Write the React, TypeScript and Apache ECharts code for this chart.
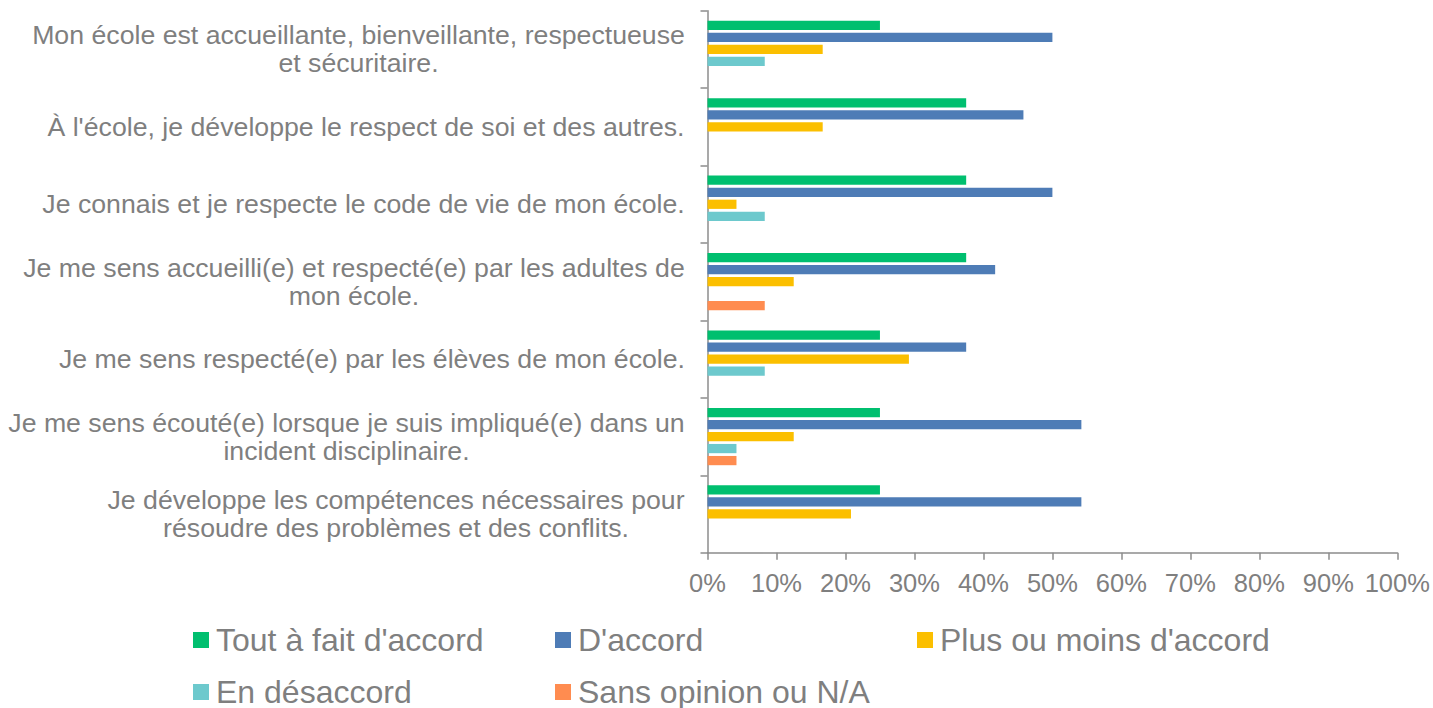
import React, { useEffect, useRef } from "react";
import * as echarts from "echarts";

const categories: string[] = [
  "Mon école est accueillante, bienveillante, respectueuse\net sécuritaire.",
  "À l'école, je développe le respect de soi et des autres.",
  "Je connais et je respecte le code de vie de mon école.",
  "Je me sens accueilli(e) et respecté(e) par les adultes de\nmon école.",
  "Je me sens respecté(e) par les élèves de mon école.",
  "Je me sens écouté(e) lorsque je suis impliqué(e) dans un\nincident disciplinaire.",
  "Je développe les compétences nécessaires pour\nrésoudre des problèmes et des conflits.",
];

const seriesNames: string[] = [
  "Tout à fait d'accord",
  "D'accord",
  "Plus ou moins d'accord",
  "En désaccord",
  "Sans opinion ou N/A",
];

const toutAFait: number[] = [25, 37.5, 37.5, 37.5, 25, 25, 25];
const dAccord: number[] = [50, 45.8, 50, 41.7, 37.5, 54.2, 54.2];
const plusOuMoins: number[] = [16.7, 16.7, 4.2, 12.5, 29.2, 12.5, 20.8];
const desaccord: number[] = [8.3, 0, 8.3, 0, 8.3, 4.2, 0];
const sansOpinion: number[] = [0, 0, 0, 8.3, 0, 4.2, 0];

const xTicks: number[] = [0, 10, 20, 30, 40, 50, 60, 70, 80, 90, 100];

const colors = ["#00BF6F", "#4E7CB6", "#FBBF00", "#6DC9CD", "#FF8C50"];
const FONT = "'Liberation Sans', Arial, Helvetica, sans-serif";
const TEXT_COLOR = "#7F7F7F";
const AXIS_COLOR = "#8C8C8C";
const CAT_FONT_SIZE = 26.7;

function measure(text: string, size: number): number {
  const c = document.createElement("canvas").getContext("2d");
  if (!c) return text.length * size * 0.5;
  c.font = `${size}px ${FONT}`;
  return c.measureText(text).width;
}

export default function App() {
  const ref = useRef<HTMLDivElement>(null);
  useEffect(() => {
    if (!ref.current) return;
    const chart = echarts.init(ref.current, undefined, { renderer: "svg" });

    const rich: Record<string, any> = {};
    categories.forEach((cat, i) => {
      const lines = cat.split("\n");
      const w = Math.ceil(Math.max(...lines.map((l) => measure(l, CAT_FONT_SIZE)))) + 1;
      rich["c" + i] = {
        width: w,
        align: "center",
        fontSize: CAT_FONT_SIZE,
        lineHeight: 28,
        color: TEXT_COLOR,
        fontFamily: FONT,
      };
    });

    const values = [toutAFait, dAccord, plusOuMoins, desaccord, sansOpinion];

    const legendCommon = {
      orient: "vertical" as const,
      icon: "rect",
      itemWidth: 16,
      itemHeight: 16,
      itemGap: 20,
      height: 140,
      textStyle: {
        fontSize: 32,
        lineHeight: 32,
        color: TEXT_COLOR,
        fontFamily: FONT,
        padding: [0, 0, 0, 2],
      },
      top: 619,
    };

    chart.setOption({
      animation: false,
      color: colors,
      textStyle: { fontFamily: FONT },
      grid: { left: 707.5, right: 35.7, top: 10.7, bottom: 155.3, containLabel: false },
      legend: [
        { ...legendCommon, left: 188, data: [seriesNames[0], seriesNames[3]] },
        { ...legendCommon, left: 550, data: [seriesNames[1], seriesNames[4]] },
        { ...legendCommon, left: 912, data: [seriesNames[2]] },
      ],
      xAxis: {
        type: "value",
        min: xTicks[0],
        max: xTicks[xTicks.length - 1],
        interval: xTicks[1] - xTicks[0],
        axisLine: { show: true, lineStyle: { color: AXIS_COLOR, width: 1.5 } },
        axisTick: { show: true, length: 7, lineStyle: { color: AXIS_COLOR, width: 1.5 } },
        splitLine: { show: false },
        axisLabel: {
          formatter: "{value}%",
          fontSize: 25.5,
          color: TEXT_COLOR,
          fontFamily: FONT,
          margin: 17,
        },
      },
      yAxis: {
        type: "category",
        inverse: true,
        data: categories,
        axisLine: { show: true, lineStyle: { color: AXIS_COLOR, width: 1.5 } },
        axisTick: { show: true, length: 7, alignWithLabel: false, lineStyle: { color: AXIS_COLOR, width: 1.5 } },
        axisLabel: {
          margin: 22,
          interval: 0,
          formatter: (value: string, idx: number) => {
            const i = categories.indexOf(value);
            const k = i >= 0 ? i : idx;
            return value
              .split("\n")
              .map((l) => `{c${k}|${l}}`)
              .join("\n");
          },
          rich,
        },
      },
      series: seriesNames.map((name, i) => ({
        name,
        type: "bar",
        data: values[i],
        barCategoryGap: "26%",
        barGap: "30%",
        itemStyle: { color: colors[i] },
      })),
    });

    return () => chart.dispose();
  }, []);

  return (
    <div
      ref={ref}
      style={{ position: "fixed", left: 0, top: 0, width: 1433, height: 708, background: "#fff" }}
    />
  );
}
